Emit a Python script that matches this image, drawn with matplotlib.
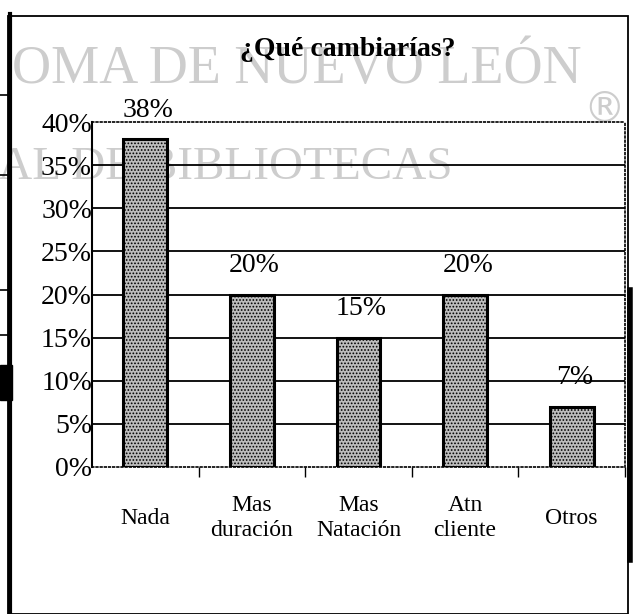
import matplotlib.pyplot as plt
from matplotlib.patches import Rectangle
from matplotlib.lines import Line2D

categorias = ["Nada", "Mas\nduración", "Mas\nNatación", "Atn\ncliente", "Otros"]
porcentajes = [38, 20, 15, 20, 7]
etiquetas = ["38%", "20%", "15%", "20%", "7%"]
y_ticks = [0, 5, 10, 15, 20, 25, 30, 35, 40]

plt.rcParams['font.family'] = ['Liberation Serif', 'DejaVu Serif']
plt.rcParams['hatch.linewidth'] = 0.8

fig = plt.figure(figsize=(6.35, 6.14), dpi=100)
fig.patch.set_facecolor('white')

# marca de agua (detras de la grafica)
gris = '#cdcdcd'
fig.text(12 / 635, 1 - 83 / 614, "OMA DE NUEVO LEÓN", ha='left', va='baseline',
         fontsize=39, color=gris, zorder=-2)
fig.text(-2 / 635, 1 - 179 / 614, "AL DE BIBLIOTECAS", ha='left', va='baseline',
         fontsize=34, color=gris, zorder=-2)
fig.text(604 / 635, 1 - 110 / 614, "®", ha='center', va='center',
         fontsize=30, color=gris, family=['DejaVu Sans'], zorder=-2)

# marco del documento escaneado
fig.add_artist(Rectangle((8 / 635, 0.0), 620 / 635, 1 - 16 / 614, transform=fig.transFigure,
                         fill=False, edgecolor='black', linewidth=1.3))
fig.add_artist(Line2D([10 / 635, 10 / 635], [0, 1 - 14 / 614], transform=fig.transFigure,
                      color='black', linewidth=3))
fig.add_artist(Line2D([630 / 635, 630 / 635], [1 - 560 / 614, 1 - 290 / 614],
                      transform=fig.transFigure, color='black', linewidth=4))
for yy in [95, 175, 290, 335]:
    fig.add_artist(Line2D([0, 10 / 635], [1 - yy / 614, 1 - yy / 614],
                          transform=fig.transFigure, color='black', linewidth=1.2))
fig.add_artist(Rectangle((0, 1 - 400 / 614), 12 / 635, 35 / 614, transform=fig.transFigure,
                         color='black'))

ax = fig.add_axes([92 / 635, 1 - 467 / 614, 533 / 635, 345 / 614])
ax.patch.set_visible(False)

x = list(range(len(categorias)))
bars = ax.bar(x, porcentajes, width=0.41, color='#bdbdbd', edgecolor='black',
              linewidth=2.2, hatch='.....', zorder=3)

for b, txt in zip(bars, etiquetas):
    ax.annotate(txt, (b.get_x() + b.get_width() / 2, b.get_height()),
                xytext=(2, 12), textcoords='offset points', ha='center', va='bottom',
                fontsize=20, zorder=4)

ax.set_xlim(-0.5, 4.5)
ax.set_ylim(0, 40)
ax.set_yticks(y_ticks)
ax.set_yticklabels([f"{v}%" for v in y_ticks], fontsize=20)
ax.tick_params(axis='y', length=0, pad=0)

for v in y_ticks[1:-1]:
    ax.axhline(v, color='black', linewidth=1.3, zorder=1)

ax.set_xticks(x)
ax.set_xticklabels(categorias, fontsize=17, linespacing=1.25)
for t in ax.get_xticklabels():
    t.set_va('center')
ax.tick_params(axis='x', which='major', length=0, pad=37)
ax.set_xticks([0.5, 1.5, 2.5, 3.5, 4.5], minor=True)
ax.tick_params(axis='x', which='minor', length=7, width=1, direction='out')

ax.spines['left'].set_linewidth(1.5)
for s in ['top', 'right', 'bottom']:
    ax.spines[s].set_linestyle((0, (1, 1.5)))
    ax.spines[s].set_linewidth(1.2)

fig.text(348 / 635, 1 - 50 / 614, "¿Qué cambiarías?", ha='center', va='center',
         fontsize=20, fontweight='bold')

fig.savefig('out.png', dpi=100)
